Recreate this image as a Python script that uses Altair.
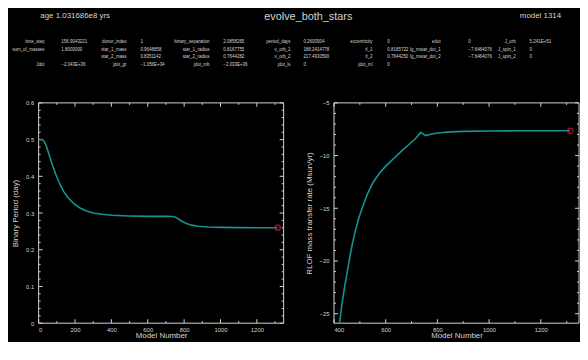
import altair as alt
import pandas as pd

# ---------------- data ----------------
period_model = [0, 20, 28, 40, 55, 70, 85, 100, 120, 140, 160, 180, 200, 230, 260, 300, 350,
                400, 500, 600, 700, 740, 755, 770, 790, 810, 840, 880, 930, 1000, 1100, 1200, 1314]
period_days = [0.500, 0.500, 0.497, 0.486, 0.463, 0.440, 0.418, 0.398, 0.375, 0.357, 0.343,
               0.332, 0.323, 0.313, 0.306, 0.300, 0.2965, 0.294, 0.292, 0.291, 0.291, 0.2905,
               0.288, 0.283, 0.277, 0.272, 0.267, 0.264, 0.262, 0.261, 0.2603, 0.2601, 0.2601]

rlof_model = [420, 430, 440, 450, 460, 470, 480, 495, 510, 530, 550, 575, 600, 630, 660, 690,
              715, 736, 745, 755, 770, 800, 850, 900, 1000, 1100, 1200, 1314]
rlof_rate = [-26.2, -24.2, -22.6, -21.2, -19.8, -18.5, -17.4, -16.0, -14.9, -13.6, -12.6, -11.7,
             -11.0, -10.3, -9.6, -8.95, -8.4, -7.8, -7.95, -8.1, -8.0, -7.85, -7.75, -7.7,
             -7.66, -7.65, -7.65, -7.646]

current_model = 1314
current_period = 0.2601
current_rate = -7.646

header_title = "evolve_both_stars"
header_age = "age 1.031686e8 yrs"
header_model = "model 1314"

row_labels = [
    ["time_step", "donor_index", "binary_separation", "period_days", "eccentricity", "edot", "J_orb"],
    ["sum_of_masses", "star_1_mass", "star_1_radius", "v_orb_1", "rl_1", "lg_mstar_dot_1", "J_spin_1"],
    ["", "star_2_mass", "star_2_radius", "v_orb_2", "rl_2", "lg_mstar_dot_2", "J_spin_2"],
    ["Jdot", "jdot_gr", "jdot_mb", "jdot_ls", "jdot_ml", "", ""],
]
row_values = [
    ["156.9043221", "1", "2.0858265", "0.2600904", "0", "0", "5.241E+51"],
    ["1.8000000", "0.9648858", "0.8167755", "188.2414778", "0.8165722", "\u22127.6464076", "0"],
    ["", "0.8351142", "0.7644282", "217.4930590", "0.7644250", "\u22127.6464076", "0"],
    ["\u22122.043E+36", "\u22121.056E+34", "\u22122.033E+36", "0", "0", "", ""],
]

left_x_major = [0, 200, 400, 600, 800, 1000, 1200]
left_x_minor = [100, 300, 500, 700, 900, 1100, 1300]
left_y_major = [0, 0.1, 0.2, 0.3, 0.4, 0.5, 0.6]
left_y_minor = [0.02, 0.04, 0.06, 0.08, 0.12, 0.14, 0.16, 0.18, 0.22, 0.24, 0.26, 0.28,
                0.32, 0.34, 0.36, 0.38, 0.42, 0.44, 0.46, 0.48, 0.52, 0.54, 0.56, 0.58]
right_x_major = [400, 600, 800, 1000, 1200]
right_x_minor = [500, 700, 900, 1100, 1300]
right_y_major = [-25, -20, -15, -10, -5]
right_y_minor = [-24, -23, -22, -21, -19, -18, -17, -16, -14, -13, -12, -11, -9, -8, -7, -6]

# ---------------- layout / style ----------------
W, H = 248, 223
HEADER_W, HEADER_H = 536, 74
TEAL = "#169494"
RED = "#d01446"
FG = "#d4d4d4"
FONT = "Liberation Sans"
MAJ, MIN = 4, 2

# header positions are relative to the left plot's origin (vconcat aligns origins)
label_right_x = [6, 89, 173, 255, 338, 407, 483]
value_left_x = [23, 103, 187, 268, 353, 435, 497]
row_y = [32, 40, 48, 56]
title_pos = [(37, 6, 8), (273, 7, 11), (508, 6, 8)]


def header_chart():
    lab, val = [], []
    for r, (labs, vals) in enumerate(zip(row_labels, row_values)):
        for c in range(len(labs)):
            if labs[c]:
                lab.append({"t": labs[c], "px": label_right_x[c], "py": row_y[r]})
            if vals[c]:
                val.append({"t": vals[c], "px": value_left_x[c], "py": row_y[r]})
    enc = dict(x=alt.X("px:Q", scale=None, axis=None), y=alt.Y("py:Q", scale=None, axis=None),
               text="t:N")
    l1 = alt.Chart(pd.DataFrame(lab)).mark_text(align="right", baseline="middle", font=FONT,
                                                 fontSize=4.5, color=FG).encode(**enc)
    l2 = alt.Chart(pd.DataFrame(val)).mark_text(align="left", baseline="middle", font=FONT,
                                                 fontSize=4.5, color=FG).encode(**enc)
    texts = [header_age, header_title, header_model]
    titles = pd.DataFrame([{"t": t, "px": p[0], "py": p[1], "s": p[2]}
                           for t, p in zip(texts, title_pos)])
    l3 = alt.Chart(titles).mark_text(align="center", baseline="middle", font=FONT,
                                     color=FG).encode(**enc, size=alt.Size("s:Q", scale=None, legend=None))
    return alt.layer(l1, l2, l3).properties(width=HEADER_W, height=HEADER_H)


def panel(mx, vy, xdom, ydom, xmaj, xmin, ymaj, ymin, ytitle, cx, cy):
    xs = alt.Scale(domain=xdom, nice=False, zero=False)
    ys = alt.Scale(domain=ydom, nice=False, zero=False)
    xaxis = alt.Axis(values=xmaj, title="Model Number", ticks=False, domain=False, grid=False,
                     format="d",
                     labelColor=FG, labelFont=FONT, labelFontSize=6, labelPadding=3,
                     titleColor=FG, titleFont=FONT, titleFontSize=8, titleFontWeight="normal",
                     titlePadding=0)
    yaxis = alt.Axis(values=ymaj, title=ytitle, ticks=False, domain=False, grid=False, format="~g",
                     labelColor=FG, labelFont=FONT, labelFontSize=6, labelPadding=5,
                     titleColor=FG, titleFont=FONT, titleFontSize=8, titleFontWeight="normal",
                     titlePadding=6)
    df = pd.DataFrame({"m": mx, "v": vy})
    line = alt.Chart(df).mark_line(color=TEAL, strokeWidth=1.6, clip=True).encode(
        x=alt.X("m:Q", scale=xs, axis=xaxis), y=alt.Y("v:Q", scale=ys, axis=yaxis))
    pt = alt.Chart(pd.DataFrame({"m": [cx], "v": [cy]})).mark_point(
        shape="circle", filled=False, color=RED, strokeWidth=1.5, size=28).encode(
        x=alt.X("m:Q", scale=xs, axis=xaxis), y=alt.Y("v:Q", scale=ys, axis=yaxis))
    layers = []
    for vals, ln in ((xmaj, MAJ), (xmin, MIN)):
        d = pd.DataFrame({"t": vals})
        layers.append(alt.Chart(d).mark_rule(color=FG, strokeWidth=1).encode(
            x=alt.X("t:Q", scale=xs, axis=xaxis), y=alt.value(H), y2=alt.value(H - ln)))
        layers.append(alt.Chart(d).mark_rule(color=FG, strokeWidth=1).encode(
            x=alt.X("t:Q", scale=xs, axis=xaxis), y=alt.value(0), y2=alt.value(ln)))
    for vals, ln in ((ymaj, MAJ), (ymin, MIN)):
        d = pd.DataFrame({"t": vals})
        layers.append(alt.Chart(d).mark_rule(color=FG, strokeWidth=1).encode(
            y=alt.Y("t:Q", scale=ys, axis=yaxis), x=alt.value(0), x2=alt.value(ln)))
        layers.append(alt.Chart(d).mark_rule(color=FG, strokeWidth=1).encode(
            y=alt.Y("t:Q", scale=ys, axis=yaxis), x=alt.value(W), x2=alt.value(W - ln)))
    frame = alt.Chart(pd.DataFrame({"a": [0]})).mark_rect(
        filled=False, stroke=FG, strokeWidth=1, fill="transparent").encode(
        x=alt.value(0), x2=alt.value(W), y=alt.value(0), y2=alt.value(H))
    return alt.layer(*layers, frame, line, pt).properties(width=W, height=H)


left = panel(period_model, period_days, [0, 1347], [0, 0.6], left_x_major, left_x_minor,
             left_y_major, left_y_minor, "Binary Period (day)", current_model, current_period)
right = panel(rlof_model, rlof_rate, [400, 1348], [-25.9, -5], right_x_major, right_x_minor,
              right_y_major, right_y_minor, "RLOF mass transfer rate (Msun/yr)",
              current_model, current_rate)

chart = alt.vconcat(
    header_chart(),
    alt.hconcat(left, right, spacing=20),
    spacing=17,
).properties(
    background="black",
    padding={"left": 3, "top": 0, "right": 0, "bottom": 0},
).configure_view(strokeWidth=0, stroke="transparent")

chart.save("out.html", embed_options={"renderer": "svg", "actions": False})
